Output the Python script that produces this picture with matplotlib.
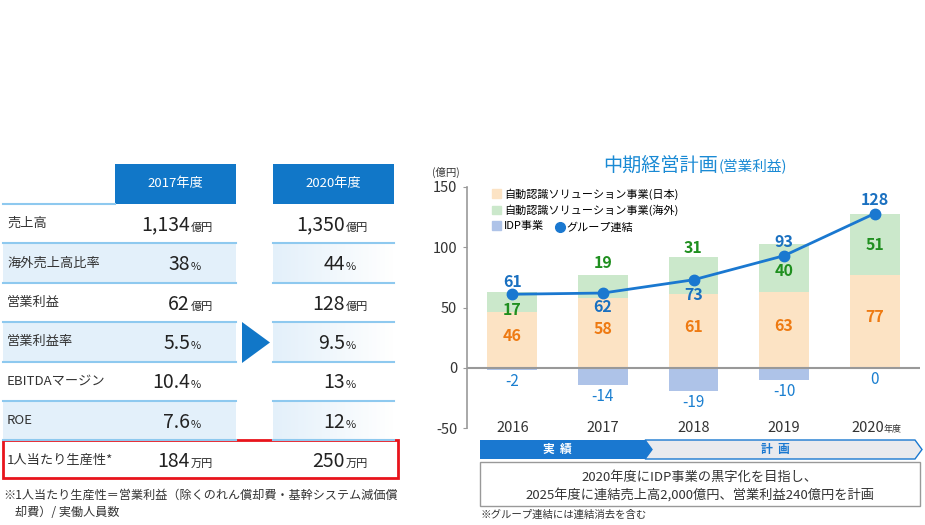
import matplotlib
matplotlib.use("Agg")
import matplotlib.pyplot as plt
import numpy as np
from matplotlib.patches import Rectangle, Polygon, Patch
from matplotlib.lines import Line2D
from matplotlib.colors import LinearSegmentedColormap

plt.rcParams['font.family'] = ['Noto Sans CJK JP', 'DejaVu Sans']
plt.rcParams['axes.unicode_minus'] = False

# 表のデータ
row_labels = ['売上高', '海外売上高比率', '営業利益', '営業利益率', 'EBITDAマージン', 'ROE', '1人当たり生産性*']
vals_2017 = ['1,134', '38', '62', '5.5', '10.4', '7.6', '184']
vals_2020 = ['1,350', '44', '128', '9.5', '13', '12', '250']
units = ['億円', '%', '億円', '%', '%', '%', '万円']
col_headers = ['2017年度', '2020年度']

# グラフのデータ (億円)
years = ['2016', '2017', '2018', '2019', '2020']
japan = [46, 58, 61, 63, 77]
overseas = [17, 19, 31, 40, 51]
idp = [-2, -14, -19, -10, 0]
group = [61, 62, 73, 93, 128]

# ラベル位置
green_label_y = [48, 87, 99, 80, 102]
group_label_dy = [10, -12, -13, 11, 11]

BLUE = '#1177c8'
LINE_BLUE = '#1a78d0'
C_JP = '#fce3c4'
C_OS = '#cbe8cb'
C_IDP = '#aec3e8'
TXT = '#333333'

fig = plt.figure(figsize=(9.25, 5.25), dpi=100)
bg = fig.add_axes([0, 0, 1, 1])
bg.set_xlim(0, 925)
bg.set_ylim(525, 0)
bg.axis('off')

# ---- 左の表 ----
top = 204
rh = 39.4
cols = [(3, 236), (273, 394)]
bg.add_patch(Rectangle((115, 164), 121, 40, color=BLUE, lw=0))
bg.add_patch(Rectangle((273, 164), 121, 40, color=BLUE, lw=0))
bg.text(175.5, 184, col_headers[0], color='white', fontsize=9.5, ha='center', va='center')
bg.text(333.5, 184, col_headers[1], color='white', fontsize=9.5, ha='center', va='center')
bg.plot([3, 115], [204, 204], color='#8ec9ef', lw=1.5)

grad = np.linspace(0, 1, 100).reshape(1, -1)
cmap = LinearSegmentedColormap.from_list('g', ['#e3f0fa', '#ffffff'])

for i, lab in enumerate(row_labels):
    y0 = top + i * rh
    yc = y0 + rh / 2
    if i in (1, 3, 5):
        bg.add_patch(Rectangle((3, y0), 233, rh, color='#e3f0fa', lw=0))
        bg.imshow(grad, cmap=cmap, extent=(273, 394, y0 + rh, y0), aspect='auto', zorder=0.5)
    if i < len(row_labels) - 1:
        for a, b in cols:
            bg.plot([a, b], [y0 + rh, y0 + rh], color='#8ec9ef', lw=1.5)
    bg.text(7, yc, lab, fontsize=9.5, color=TXT, ha='left', va='center')
    for xr, v in [(190, vals_2017[i]), (345, vals_2020[i])]:
        bg.text(xr, yc + 7, v, fontsize=14, color='#222222', ha='right', va='baseline')
        bg.text(xr + 1, yc + 7, units[i], fontsize=8, color='#222222', ha='left', va='baseline')

bg.set_xlim(0, 925)
bg.set_ylim(525, 0)

bg.add_patch(Rectangle((3, 440), 395, 38, fill=False, ec='#e8141c', lw=2))
bg.add_patch(Polygon([(242, 322), (242, 363), (270, 342.5)], closed=True, color=BLUE, lw=0))
bg.text(3, 495, '※1人当たり生産性＝営業利益（除くのれん償却費・基幹システム減価償',
        fontsize=8.7, color=TXT, ha='left', va='center')
bg.text(15, 512, '却費）/ 実働人員数', fontsize=8.7, color=TXT, ha='left', va='center')

# ---- 右のグラフ ----
bg.text(718, 165, '中期経営計画', fontsize=13.8, color='#1a8ad4', ha='right', va='center')
bg.text(719, 167, '(営業利益)', fontsize=10.5, color='#1a8ad4', ha='left', va='center')
bg.text(446, 172, '(億円)', fontsize=7.5, color=TXT, ha='center', va='center')

ax = fig.add_axes([467 / 925, (525 - 428) / 525, 453 / 925, 241 / 525])
ax.patch.set_alpha(0)
x = np.arange(len(years))
w = 0.55
ax.bar(x, japan, w, color=C_JP, zorder=2)
ax.bar(x, overseas, w, bottom=japan, color=C_OS, zorder=2)
ax.bar(x, idp, w, color=C_IDP, zorder=2)
ax.axhline(0, color='#999999', lw=1.5, zorder=3)
ax.plot(x, group, color=LINE_BLUE, lw=2, marker='o', ms=7.5, zorder=4)

for i in x:
    ax.text(i, japan[i] / 2 + 3.5, str(japan[i]), color='#ee7a12', fontsize=11.5,
            fontweight='bold', ha='center', va='center', zorder=5)
    ax.text(i, green_label_y[i], str(overseas[i]), color='#1f8f1f', fontsize=11.5,
            fontweight='bold', ha='center', va='center', zorder=5)
    ax.text(i, group[i] + group_label_dy[i], str(group[i]), color='#1a70c0', fontsize=11.5,
            fontweight='bold', ha='center', va='center', zorder=5)
    ax.text(i, idp[i] - 9.5, str(idp[i]), color='#1a7fd0', fontsize=11,
            ha='center', va='center', zorder=5)

ax.set_xlim(-0.5, 4.5)
ax.set_ylim(-50, 150)
ax.set_yticks([150, 100, 50, 0, -50])
ax.tick_params(axis='y', length=3, color='#999999', labelsize=10.5, labelcolor=TXT, pad=4)
ax.set_xticks([])
for s in ['top', 'right', 'bottom']:
    ax.spines[s].set_visible(False)
ax.spines['left'].set_color('#999999')
ax.spines['left'].set_linewidth(1.2)

for i, yr in enumerate(years[:-1]):
    ax.text(i, -50, yr, fontsize=10.5, color=TXT, ha='center', va='center')
ax.text(4.1, -50, years[-1], fontsize=10.5, color=TXT, ha='right', va='center')
ax.text(4.1, -51, '年度', fontsize=6.5, color=TXT, ha='left', va='center')

h1 = [Patch(color=C_JP), Patch(color=C_OS), Patch(color=C_IDP)]
l1 = ['自動認識ソリューション事業(日本)', '自動認識ソリューション事業(海外)', 'IDP事業']
leg1 = ax.legend(h1, l1, loc='upper left', bbox_to_anchor=(0.055, 0.995), frameon=False,
                 fontsize=8, handlelength=0.8, handleheight=0.8, handletextpad=0.3,
                 labelspacing=0.45, borderpad=0, borderaxespad=0)
ax.add_artist(leg1)
h2 = [Line2D([], [], color=LINE_BLUE, marker='o', ls='none', ms=7)]
ax.legend(h2, ['グループ連結'], loc='center left', bbox_to_anchor=(0.195, 0.83), frameon=False,
          fontsize=8, handlelength=0.8, handletextpad=0.2, borderpad=0, borderaxespad=0)

# 実績 / 計画 の帯
bg.add_patch(Polygon([(645, 440), (915, 440), (922, 449.5), (915, 459), (645, 459), (652, 449.5)],
                     closed=True, fc='#e9eaee', ec=LINE_BLUE, lw=1))
bg.add_patch(Polygon([(480, 440), (645, 440), (652, 449.5), (645, 459), (480, 459)],
                     closed=True, color=LINE_BLUE, lw=0))
bg.text(557, 449.5, '実  績', color='white', fontsize=8.5, fontweight='bold', ha='center', va='center')
bg.text(775, 449.5, '計  画', color=LINE_BLUE, fontsize=8.5, fontweight='bold', ha='center', va='center')

bg.add_patch(Rectangle((480, 462), 440, 44, fc='white', ec='#999999', lw=1))
bg.text(700, 477, '2020年度にIDP事業の黒字化を目指し、', fontsize=9.5, color=TXT, ha='center', va='center')
bg.text(700, 495, '2025年度に連結売上高2,000億円、営業利益240億円を計画', fontsize=9.5, color=TXT,
        ha='center', va='center')
bg.text(480, 515, '※グループ連結には連結消去を含む', fontsize=7.5, color=TXT, ha='left', va='center')

fig.savefig('out.png', dpi=100)
